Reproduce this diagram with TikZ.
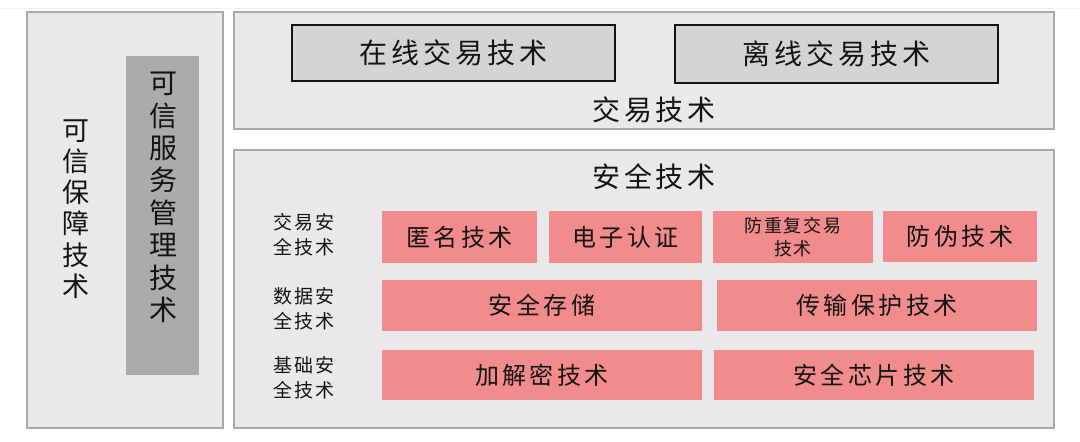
\documentclass[tikz,border=0pt]{standalone}
\usepackage{fontspec}
\newfontfamily\cjk[LetterSpace=14]{Noto Sans CJK SC}
\newfontfamily\cjksmall[LetterSpace=10]{Noto Sans CJK SC}
\newfontfamily\cjkplain{Noto Sans CJK SC}
\definecolor{panelfill}{HTML}{EAE8EA}
\definecolor{panelline}{HTML}{A9A9A9}
\definecolor{tsmfill}{HTML}{ABABAB}
\definecolor{tradefill}{HTML}{D4D4D4}
\definecolor{pinkfill}{HTML}{F28B8B}
\definecolor{ink}{HTML}{141414}
\begin{document}
\begin{tikzpicture}[x=1pt,y=-1pt,
  panel/.style={draw=panelline,fill=panelfill,line width=1.5pt,inner sep=0pt},
  tsmbox/.style={fill=tsmfill,inner sep=0pt},
  tradebox/.style={draw=ink,fill=tradefill,line width=1.6pt,inner sep=0pt,text=ink,font=\cjk\fontsize{28}{32}\selectfont},
  pinkbox/.style={fill=pinkfill,inner sep=0pt,text=ink,font=\cjk\fontsize{24}{28}\selectfont},
  title/.style={inner sep=0pt,text=ink,font=\cjk\fontsize{28}{32}\selectfont},
  vtext/.style={inner sep=0pt,text=ink,align=center},
  rowlabel/.style={inner sep=0pt,text=ink,align=center,font=\cjksmall\fontsize{19}{25}\selectfont}]
\useasboundingbox (0,0) rectangle (1080,442);
\draw[gray!12,line width=.8pt] (0,8) -- (1080,8);
\node[panel,minimum width=196pt,minimum height=416pt] (guard) at (125,220) {};
\node[tsmbox,minimum width=73pt,minimum height=319pt] (tsm) at (162.5,215.5) {};
\node[vtext,font=\cjkplain\fontsize{27}{31.3}\selectfont] (guardtxt) at (76,209) {可\\信\\保\\障\\技\\术};
\node[vtext,font=\cjkplain\fontsize{28}{32.4}\selectfont] (tsmtxt) at (163,197.5) {可\\信\\服\\务\\管\\理\\技\\术};
\node[panel,minimum width=820pt,minimum height=117pt] (trade) at (644,70.5) {};
\node[tradebox,minimum width=323pt,minimum height=56pt] (online) at (453.5,53) {在线交易技术};
\node[tradebox,minimum width=323pt,minimum height=58pt] (offline) at (836.5,54) {离线交易技术};
\node[title] (tradetxt) at (654,110) {交易技术};
\node[panel,minimum width=820pt,minimum height=278pt] (security) at (644,289) {};
\node[title] (securitytxt) at (654,177) {安全技术};
\node[rowlabel] (rowtrade) at (304,235) {交易安\\全技术};
\node[rowlabel] (rowdata) at (304,309) {数据安\\全技术};
\node[rowlabel] (rowbase) at (304,378) {基础安\\全技术};
\node[pinkbox,minimum width=155pt,minimum height=52pt] (anon) at (459.5,237) {匿名技术};
\node[pinkbox,minimum width=153pt,minimum height=52pt] (ecert) at (625.5,237) {电子认证};
\node[pinkbox,minimum width=160pt,minimum height=52pt,align=center,font=\cjksmall\fontsize{18}{23}\selectfont] (replay) at (793,237) {防重复交易\\技术};
\node[pinkbox,minimum width=154pt,minimum height=51pt] (forge) at (960,236.5) {防伪技术};
\node[pinkbox,minimum width=320pt,minimum height=51pt] (storage) at (542,305.5) {安全存储};
\node[pinkbox,minimum width=320pt,minimum height=51pt] (transmit) at (877,305.5) {传输保护技术};
\node[pinkbox,minimum width=320pt,minimum height=50pt] (crypto) at (542,375) {加解密技术};
\node[pinkbox,minimum width=320pt,minimum height=50pt] (chip) at (874,375) {安全芯片技术};
\end{tikzpicture}
\end{document}
